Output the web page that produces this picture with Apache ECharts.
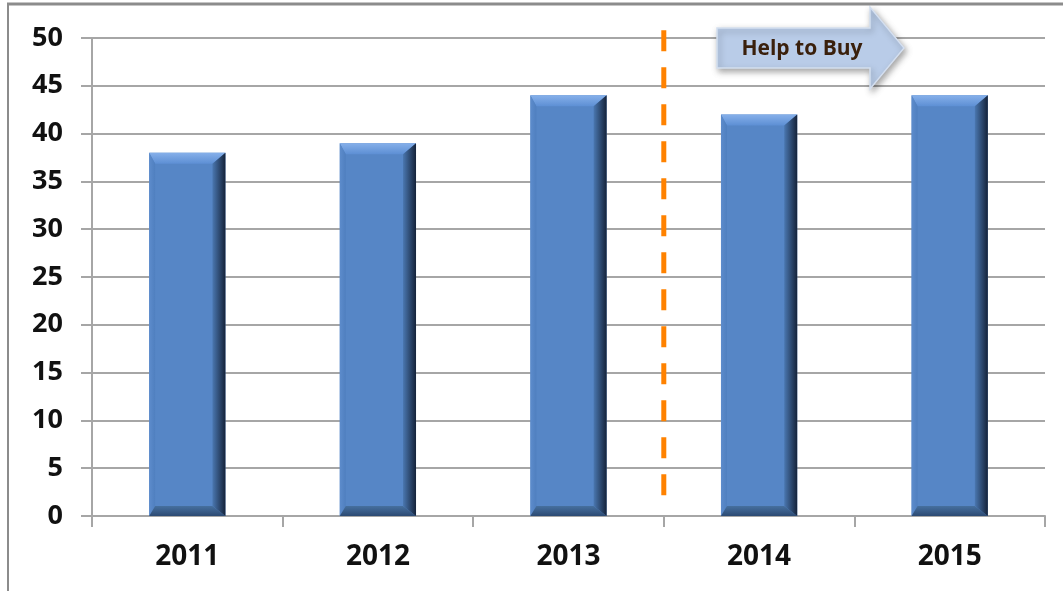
<!DOCTYPE html>
<html>
<head>
<meta charset="utf-8">
<script src="https://cdn.jsdelivr.net/npm/echarts@6/dist/echarts.min.js"></script>
<style>
  html, body { margin: 0; padding: 0; background: #fff; }
  #chart { width: 1063px; height: 591px; }
</style>
</head>
<body>
<div id="chart"></div>
<script>
// Yearly values per category
const years = ['2011', '2012', '2013', '2014', '2015'];
const values = [38, 39, 44, 42, 44];
const yTicks = { min: 0, max: 50, interval: 5 };
const annotationText = 'Help to Buy';

const FONT = '"Open Sans", "Liberation Sans", sans-serif';
const chart = echarts.init(document.getElementById('chart'), null, { renderer: 'canvas' });

// Bevelled bar: flat face plus four sloped edges
function renderBevelBar(params, api) {
  const idx = api.value(0);
  const v = api.value(1);
  const top = api.coord([idx, v]);
  const base = api.coord([idx, 0]);
  const bw = api.size([1, 0])[0] * 0.4;
  const x0 = top[0] - bw / 2, x1 = top[0] + bw / 2;
  const y0 = top[1], y1 = base[1];
  const bt = 11, bl = 6, br = 13, bb = 10;
  const ix0 = x0 + bl, ix1 = x1 - br, iy0 = y0 + bt, iy1 = y1 - bb;
  const lg = (x1_, y1_, x2_, y2_, c1, c2) => new echarts.graphic.LinearGradient(x1_, y1_, x2_, y2_, [
    { offset: 0, color: c1 }, { offset: 1, color: c2 }
  ]);
  return {
    type: 'group',
    children: [
      { type: 'rect', shape: { x: x0, y: y0, width: bw, height: y1 - y0 },
        style: { fill: '#5686c6' } },
      { type: 'polygon', shape: { points: [[x0, y0], [x1, y0], [ix1, iy0], [ix0, iy0]] },
        style: { fill: lg(0, 0, 0, 1, '#86b0ea', '#5d8fd4') } },
      { type: 'polygon', shape: { points: [[x0, y0], [ix0, iy0], [ix0, iy1], [x0, y1]] },
        style: { fill: lg(0, 0, 1, 0, '#5d8ccc', '#4f7fbf') } },
      { type: 'polygon', shape: { points: [[x0, y1], [ix0, iy1], [ix1, iy1], [x1, y1]] },
        style: { fill: lg(0, 0, 0, 1, '#46709f', '#2c4a73') } },
      { type: 'polygon', shape: { points: [[x1, y0], [x1, y1], [ix1, iy1], [ix1, iy0]] },
        style: { fill: lg(0, 0, 1, 0, '#4a77b0', '#15233a') } }
    ]
  };
}

const option = {
  animation: false,
  backgroundColor: '#ffffff',
  grid: { left: 92, right: 18, top: 38, bottom: 75 },
  xAxis: {
    type: 'category',
    data: years,
    boundaryGap: true,
    axisLine: { show: true, lineStyle: { color: '#a6a6a6', width: 2 } },
    axisTick: { show: true, length: 11, lineStyle: { color: '#a6a6a6', width: 2 } },
    axisLabel: { margin: 27, color: '#111', fontSize: 28, fontWeight: 'bold', fontFamily: FONT }
  },
  yAxis: {
    type: 'value',
    min: yTicks.min, max: yTicks.max, interval: yTicks.interval,
    axisLine: { show: true, lineStyle: { color: '#a6a6a6', width: 2 } },
    axisTick: { show: true, length: 11, lineStyle: { color: '#a6a6a6', width: 2 } },
    splitLine: { show: true, lineStyle: { color: '#a6a6a6', width: 2 } },
    axisLabel: { margin: 29, color: '#111', fontSize: 27, fontWeight: 'bold', fontFamily: FONT }
  },
  series: [{
    type: 'custom',
    renderItem: renderBevelBar,
    encode: { x: 0, y: 1 },
    data: values.map((v, i) => [i, v]),
    z: 3
  }]
};
chart.setOption(option);

// Divider between 2013 and 2014, plus the annotation arrow and outer frame
function drawOverlay() {
  const p3 = chart.convertToPixel({ xAxisIndex: 0 }, 2);
  const p4 = chart.convertToPixel({ xAxisIndex: 0 }, 3);
  const divX = (p3 + p4) / 2;
  const yTop = chart.convertToPixel({ yAxisIndex: 0 }, 50.8);
  const yBot = chart.convertToPixel({ yAxisIndex: 0 }, 1.8);

  chart.setOption({
    graphic: [
      { type: 'line', z: 10,
        shape: { x1: divX, y1: yTop, x2: divX, y2: yBot },
        style: { stroke: '#ff8200', lineWidth: 5, lineDash: [21, 16] } },
      { type: 'polygon', z: 10,
        shape: { points: [[717, 28], [870, 28], [870, 7], [904, 48], [870, 89], [870, 68], [717, 68]] },
        style: { fill: '#b9cce8', stroke: '#d4dff0', lineWidth: 1.5,
                 shadowBlur: 6, shadowOffsetX: 2, shadowOffsetY: 3, shadowColor: 'rgba(0,0,0,0.35)' } },
      { type: 'text', z: 11, x: 802, y: 49,
        style: { text: annotationText, fill: '#3a200c', font: 'bold 21px ' + FONT,
                 align: 'center', verticalAlign: 'middle' } },
      { type: 'line', z: 12, shape: { x1: 7, y1: 4, x2: 1063, y2: 4 },
        style: { stroke: '#8c8c8c', lineWidth: 3 } },
      { type: 'line', z: 12, shape: { x1: 8, y1: 3, x2: 8, y2: 591 },
        style: { stroke: '#8c8c8c', lineWidth: 2 } }
    ]
  });
}
drawOverlay();
</script>
</body>
</html>
